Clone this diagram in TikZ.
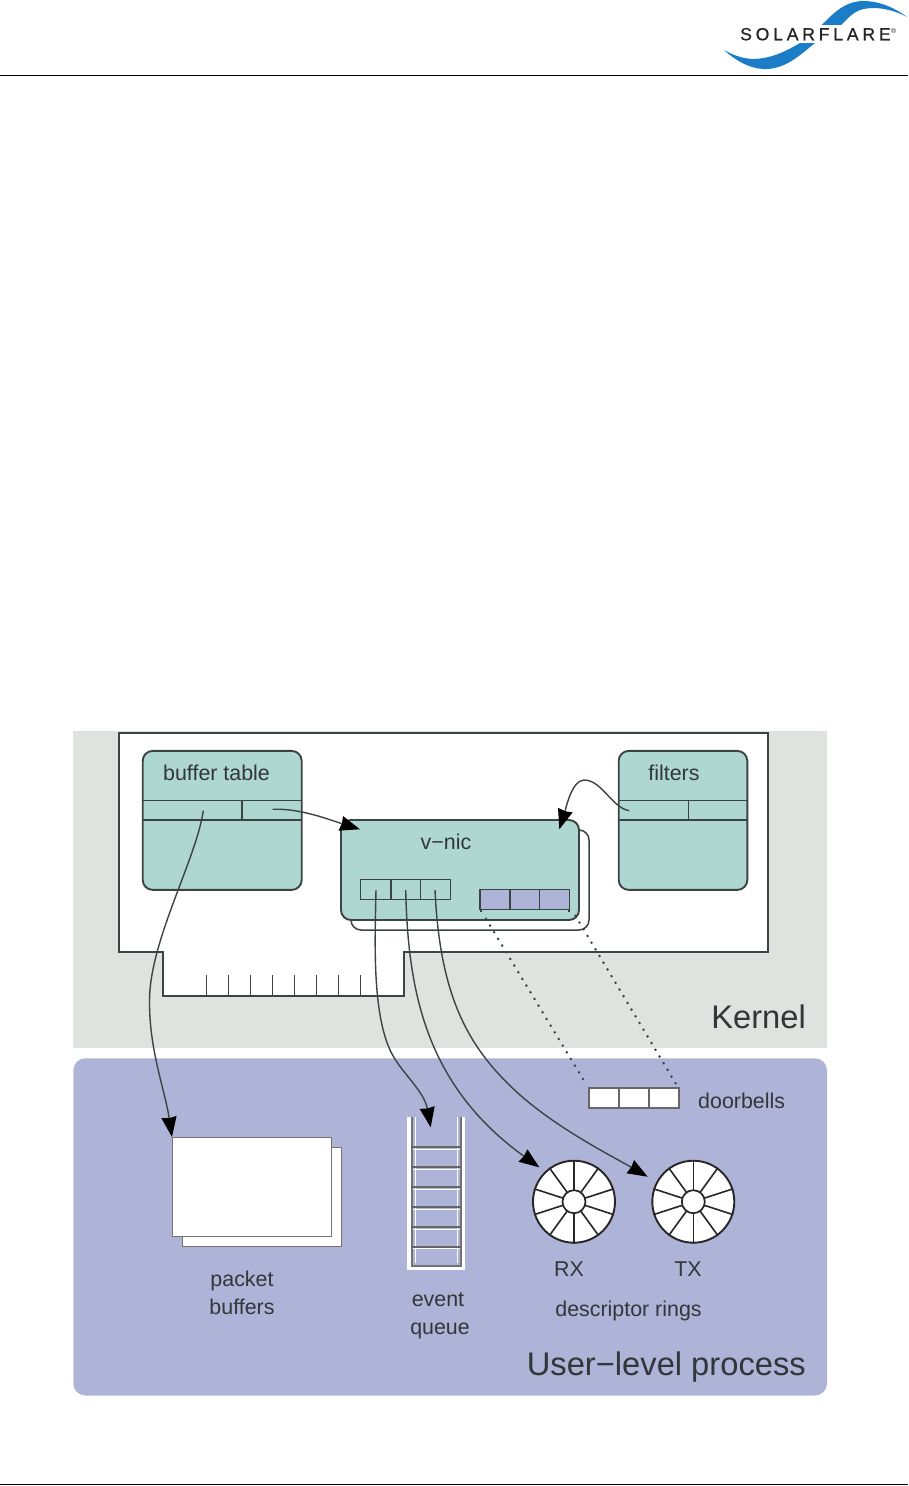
\documentclass[tikz,border=0pt]{standalone}
\usepackage{fontspec}
\setmainfont{Liberation Sans}
\usetikzlibrary{arrows.meta}
\definecolor{kernelbg}{HTML}{DEE3DF}
\definecolor{userbg}{HTML}{AEB4D8}
\definecolor{tablebg}{HTML}{AED7D1}
\definecolor{inkline}{HTML}{3C4343}
\definecolor{inktext}{HTML}{333638}
\definecolor{flareblue}{HTML}{1B7CC8}
\tikzset{
  tablebox/.style={draw=inkline,fill=tablebg,rounded corners=10pt,line width=1.9pt,inner sep=0pt,
    minimum height=139pt},
  thinline/.style={draw=inkline,line width=1.5pt},
  label/.style={text=inktext,anchor=base,inner sep=0pt,font=\fontsize{21.4}{24}\selectfont},
  biglabel/.style={text=inktext,anchor=base east,inner sep=0pt,font=\fontsize{32.7}{36}\selectfont},
  wire/.style={draw=inkline,line width=1.4pt,-{Stealth[length=20pt,width=15pt,inset=1pt,color=black]}},
  dots/.style={draw=inkline,line width=2pt,dash pattern=on 2pt off 5.8pt},
  wheel/.style={circle,draw=black!85,fill=white,line width=1.9pt,inner sep=0pt,minimum size=82pt},
  hub/.style={circle,draw=black!85,fill=white,line width=1.7pt,inner sep=0pt,minimum size=23pt},
  sheet/.style={draw=black!55,fill=white,line width=1.5pt,inner sep=0pt,minimum width=159pt,minimum height=99pt},
}
\begin{document}
\begin{tikzpicture}[x=1pt,y=-1pt]
\useasboundingbox (0,0) rectangle (908,1486);
\fill[flareblue] (724,50) .. controls (742,60) and (762,66) .. (800,43) .. controls (810,36) and (818,28) .. (827,20)
  .. controls (838,8) and (850,1) .. (863,1) .. controls (880,1) and (895,8) .. (907,17)
  .. controls (890,8) and (872,6) .. (860,10) .. controls (850,14) and (845,22) .. (838,28)
  .. controls (832,33) and (825,36) .. (815,43) .. controls (800,55) and (785,70) .. (763,69)
  .. controls (748,68) and (735,60) .. (724,50) -- cycle;
\fill[white] (738,25) rectangle (898,43);
\node[anchor=base west,inner sep=0pt,text=black!85,font=\fontsize{17.6}{20}\selectfont\addfontfeature{LetterSpace=21.5,FakeBold=0.8}] (logotext) at (740,40.3) {SOLARFLARE};
\node[anchor=base west,inner sep=0pt,text=black!85,font=\fontsize{7}{8}\selectfont] (logomark) at (891,33) {®};
\draw[line width=1.3pt] (0,75.5)--(908,75.5);
\draw[line width=1.3pt] (0,1484.5)--(908,1484.5);
\fill[kernelbg] (73.3,730.7) rectangle (827,1048.3);
\fill[userbg,rounded corners=12pt] (73.3,1058.3) rectangle (827,1395.5);
\draw[fill=white,draw=inkline,line width=1.9pt] (118.7,732.7)--(768,732.7)--(768,952.3)--(404.3,952.3)--(404.3,996)--(162.7,996)--(162.7,952.3)--(118.7,952.3)--cycle;
\draw[thinline] (206.7,975)--(206.7,996) (228.3,975)--(228.3,996) (250.7,975)--(250.7,996) (272.3,975)--(272.3,996)
  (294.3,975)--(294.3,996) (316.3,975)--(316.3,996) (338.3,975)--(338.3,996) (360.3,975)--(360.3,996);
\node[tablebox,minimum width=159pt] (buffertable) at (222.2,820.4) {};
\draw[thinline] (142.7,800.3)--(301.7,800.3) (142.7,820)--(301.7,820) (242,800.3)--(242,820);
\node[label,anchor=base west] (buffertablelabel) at (163,780) {buffer table};
\node[tablebox,minimum width=128.6pt] (filters) at (683,820.4) {};
\draw[thinline] (618.7,800.3)--(747.3,800.3) (618.7,820)--(747.3,820) (688.3,800.3)--(688.3,820);
\node[label] (filterslabel) at (674,780) {filters};
\node[tablebox,fill=white,minimum width=238pt,minimum height=100pt,line width=1.5pt] (vnicback) at (470,880) {};
\node[tablebox,minimum width=238pt,minimum height=100pt] (vnic) at (460,870) {};
\node[label] (vniclabel) at (446,849.3) {v−nic};
\draw[thinline] (360.3,879.3) rectangle (450.3,899.3) (391,879.3)--(391,899.3) (420.7,879.3)--(420.7,899.3);
\draw[thinline,fill=userbg] (480,889.3) rectangle (569.3,909.3);
\draw[thinline] (510,889.3)--(510,909.3) (539.3,889.3)--(539.3,909.3) (481,909.3)--(481,912) (569,909.3)--(569,912);
\node[sheet,minimum width=159pt] (packetback) at (262,1197) {};
\node[sheet] (packetfront) at (252.2,1187.2) {};
\node[label] (packetlabel) at (242,1286.7) {packet};
\node[label] (bufferslabel) at (242,1314) {buffers};
\draw[white,line width=4pt] (408.7,1117.3)--(408.7,1268)--(462.5,1268)--(462.5,1117.3);
\draw[white,line width=1pt] (415,1117.3)--(415,1263) (457.5,1117.3)--(457.5,1263)
  (412,1149) -- (460,1149) (412,1169) -- (460,1169) (412,1189) -- (460,1189) (412,1209) -- (460,1209) (412,1229) -- (460,1229) (412,1248.5) -- (460,1248.5);
\draw[draw=black!55,line width=2.2pt] (412,1117.3)--(412,1266)--(461,1266)--(461,1117.3);
\draw[draw=black!60,line width=1.7pt] (411,1147.3)--(461,1147.3) (411,1167.3)--(461,1167.3) (411,1187.3)--(461,1187.3)
  (411,1207.3)--(461,1207.3) (411,1227.3)--(461,1227.3) (411,1246.7)--(461,1246.7);
\node[label] (eventlabel) at (438,1306.7) {event};
\node[label] (queuelabel) at (440,1334) {queue};
\draw[draw=black!60,fill=white,line width=1.8pt] (588.7,1087.7) rectangle (679,1108.3);
\draw[draw=black!60,line width=1.8pt] (619.3,1087.7)--(619.3,1108.3) (648.7,1087.7)--(648.7,1108.3);
\node[label,anchor=base west] (doorbellslabel) at (698,1108.3) {doorbells};
\node[wheel] (rxring) at (574,1201.7) {};
\node[wheel] (txring) at (693.3,1201.7) {};
\foreach \a in {18,54,...,342} {
  \draw[draw=black!85,line width=1.6pt] (rxring.center)--(rxring.\a);
  \draw[draw=black!85,line width=1.6pt] (txring.center)--(txring.\a);
}
\node[hub] (rxhub) at (rxring.center) {};
\node[hub] (txhub) at (txring.center) {};
\node[label] (rxlabel) at (569,1276.7) {RX};
\node[label] (txlabel) at (688,1276.7) {TX};
\node[label] (ringslabel) at (628.5,1316.7) {descriptor rings};
\node[biglabel] (kernellabel) at (806,1028.3) {Kernel};
\node[biglabel] (userlabel) at (806,1375) {User−level process};
\coordinate (bufferleft) at (203.3,810.7);
\coordinate (bufferright) at (272.7,809.3);
\coordinate (filterleft) at (629.3,810.7);
\coordinate (vnicin) at (360,829.3);
\coordinate (vnicout) at (559.3,829.3);
\coordinate (queuecell) at (376,890);
\coordinate (rxcell) at (405.7,890);
\coordinate (txcell) at (435,890);
\coordinate (queuetop) at (430.7,1127.3);
\coordinate (rxedge) at (539.3,1167.3);
\coordinate (txedge) at (647.7,1176.7);
\coordinate (bellleft) at (485.5,918);
\coordinate (bellright) at (575,915);
\coordinate (bellleftend) at (586,1084);
\coordinate (bellrightend) at (676,1084);
\draw[wire] (bufferright) .. controls (300,808) and (330,820) .. (vnicin);
\draw[wire] (filterleft) .. controls (612,808) and (602,780) .. (584,780) .. controls (572,780) and (566,808) .. (vnicout);
\draw[wire] (bufferleft) .. controls (196,860) and (150,940) .. (149.5,1000) .. controls (149,1050) and (165,1090) .. (packetfront.north west);
\draw[wire] (queuecell) .. controls (375,940) and (372,1010) .. (390,1050) .. controls (400,1072) and (424,1090) .. (queuetop);
\draw[wire] (rxcell) .. controls (408,990) and (425,1085) .. (rxedge);
\draw[wire] (txcell) .. controls (440,1000) and (470,1050) .. (520,1095) .. controls (560,1130) and (610,1155) .. (txedge);
\draw[dots] (bellleft)--(bellleftend);
\draw[dots] (bellright)--(bellrightend);
\end{tikzpicture}
\end{document}
